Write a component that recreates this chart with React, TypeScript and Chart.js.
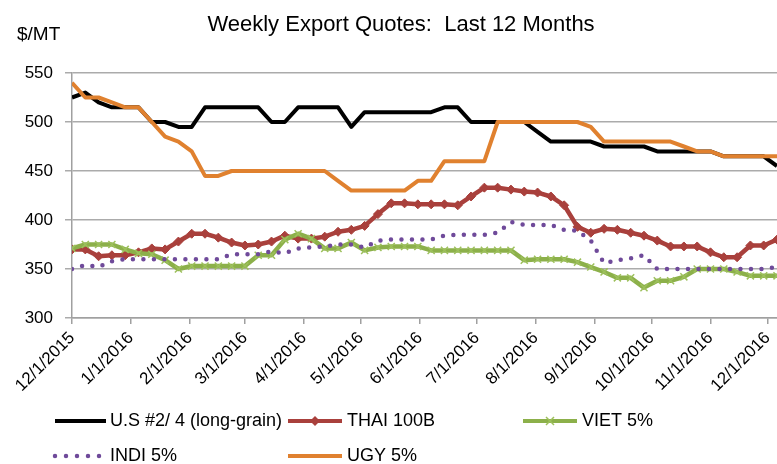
import React, { useEffect, useRef } from "react";
import { Chart, registerables } from "chart.js";

Chart.register(...registerables);

const FONT = "'Liberation Sans', Arial, sans-serif";

const TITLE = "Weekly Export Quotes:  Last 12 Months";
const Y_UNIT = "$/MT";

const DATES = [
  "12/1/2015", "12/8/2015", "12/15/2015", "12/22/2015", "12/29/2015",
  "1/5/2016", "1/12/2016", "1/19/2016", "1/26/2016",
  "2/2/2016", "2/9/2016", "2/16/2016", "2/23/2016",
  "3/1/2016", "3/8/2016", "3/15/2016", "3/22/2016", "3/29/2016",
  "4/5/2016", "4/12/2016", "4/19/2016", "4/26/2016",
  "5/3/2016", "5/10/2016", "5/17/2016", "5/24/2016", "5/31/2016",
  "6/7/2016", "6/14/2016", "6/21/2016", "6/28/2016",
  "7/5/2016", "7/12/2016", "7/19/2016", "7/26/2016",
  "8/2/2016", "8/9/2016", "8/16/2016", "8/23/2016", "8/30/2016",
  "9/6/2016", "9/13/2016", "9/20/2016", "9/27/2016",
  "10/4/2016", "10/11/2016", "10/18/2016", "10/25/2016",
  "11/1/2016", "11/8/2016", "11/15/2016", "11/22/2016", "11/29/2016",
  "12/6/2016",
];

const TICK_LABELS = [
  "12/1/2015", "1/1/2016", "2/1/2016", "3/1/2016", "4/1/2016", "5/1/2016",
  "6/1/2016", "7/1/2016", "8/1/2016", "9/1/2016", "10/1/2016", "11/1/2016",
  "12/1/2016",
];

const US = [
  525, 530, 520, 515, 515, 515, 500, 500, 495, 495,
  515, 515, 515, 515, 515, 500, 500, 515, 515, 515,
  515, 495, 510, 510, 510, 510, 510, 510, 515, 515,
  500, 500, 500, 500, 500, 490, 480, 480, 480, 480,
  475, 475, 475, 475, 470, 470, 470, 470, 470, 465,
  465, 465, 465, 455,
];

const THAI = [
  370, 370, 363, 364, 364, 367, 371, 370, 378, 386,
  386, 382, 377, 374, 375, 378, 384, 381, 381, 383,
  388, 390, 394, 406, 417, 417, 416, 416, 416, 415,
  424, 433, 433, 431, 429, 428, 424, 415, 393, 387,
  391, 390, 387, 384, 379, 373, 373, 373, 367, 362,
  362, 374, 374, 380,
];

const VIET = [
  371, 375, 375, 375, 370, 366, 365, 359, 350, 353,
  353, 353, 353, 353, 364, 364, 380, 386, 381, 371,
  371, 377, 369, 372, 373, 373, 373, 369, 369, 369,
  369, 369, 369, 369, 359, 360, 360, 360, 357, 352,
  347, 341, 341, 331, 338, 338, 342, 350, 350, 350,
  347, 343, 343, 343,
];

const INDI = [
  350, 354, 352, 358, 360, 360, 360, 360, 360, 360,
  360, 360, 365, 365, 365, 368, 366, 371, 372, 373,
  375, 375, 372, 379, 380, 380, 380, 380, 384, 385,
  385, 385, 387, 398, 395, 395, 395, 390, 389, 379,
  356, 359, 361, 364, 350, 350, 350, 350, 350, 350,
  350, 350, 350, 352,
];

const UGY = [
  540, 525, 525, 520, 515, 515, 500, 485, 480, 470,
  445, 445, 450, 450, 450, 450, 450, 450, 450, 450,
  440, 430, 430, 430, 430, 430, 440, 440, 460, 460,
  460, 460, 500, 500, 500, 500, 500, 500, 500, 495,
  480, 480, 480, 480, 480, 480, 475, 470, 470, 465,
  465, 465, 465, 465,
];

const NAMES = ["U.S #2/ 4 (long-grain)", "THAI 100B", "VIET 5%", "INDI 5%", "UGY 5%"];

const C_US = "#000000";
const C_THAI = "#A9403C";
const C_VIET = "#8CB04A";
const C_VIET_MARK = "#9DC05C";
const C_INDI = "#6F4A9A";
const C_UGY = "#E0812F";

function dayOf(s: string): number {
  const [m, d, y] = s.split("/").map(Number);
  return (Date.UTC(y, m - 1, d) - Date.UTC(2015, 11, 1)) / 86400000;
}

function pts(vals: number[]) {
  return DATES.map((d, i) => ({ x: dayOf(d), y: vals[i] }));
}

const decorPlugin = {
  id: "decor",
  afterDraw(chart: any) {
    const ctx = chart.ctx as CanvasRenderingContext2D;
    ctx.save();
    ctx.fillStyle = "#000";
    ctx.textBaseline = "middle";
    ctx.textAlign = "center";
    ctx.font = `22px ${FONT}`;
    ctx.fillText(TITLE, 401, 25);
    ctx.textAlign = "left";
    ctx.font = `19px ${FONT}`;
    ctx.fillText(Y_UNIT, 17, 35);

    // legend
    const r1 = 421;
    const r2 = 456;
    ctx.font = `18px ${FONT}`;
    const line = (x1: number, x2: number, y: number, color: string, w: number) => {
      ctx.save();
      ctx.strokeStyle = color;
      ctx.lineWidth = w;
      ctx.lineCap = "butt";
      ctx.beginPath();
      ctx.moveTo(x1, y);
      ctx.lineTo(x2, y);
      ctx.stroke();
      ctx.restore();
    };
    // US
    line(55, 106, r1, C_US, 4);
    ctx.fillText(NAMES[0], 110, r1);
    // THAI
    line(288, 342, r1, C_THAI, 4);
    ctx.save();
    ctx.fillStyle = C_THAI;
    ctx.beginPath();
    ctx.moveTo(315, r1 - 5);
    ctx.lineTo(320, r1);
    ctx.lineTo(315, r1 + 5);
    ctx.lineTo(310, r1);
    ctx.closePath();
    ctx.fill();
    ctx.restore();
    ctx.fillText(NAMES[1], 347, r1);
    // VIET
    line(523, 577, r1, C_VIET, 4);
    ctx.save();
    ctx.strokeStyle = C_VIET_MARK;
    ctx.lineWidth = 1.5;
    ctx.beginPath();
    ctx.moveTo(546, r1 - 4);
    ctx.lineTo(554, r1 + 4);
    ctx.moveTo(554, r1 - 4);
    ctx.lineTo(546, r1 + 4);
    ctx.stroke();
    ctx.restore();
    ctx.fillText(NAMES[2], 582, r1);
    // INDI
    ctx.save();
    ctx.strokeStyle = C_INDI;
    ctx.lineWidth = 4.5;
    ctx.lineCap = "round";
    ctx.setLineDash([0, 11]);
    ctx.beginPath();
    ctx.moveTo(55, r2);
    ctx.lineTo(100, r2);
    ctx.stroke();
    ctx.restore();
    ctx.fillText(NAMES[3], 110, r2);
    // UGY
    line(288, 342, r2, C_UGY, 4);
    ctx.fillText(NAMES[4], 347, r2);
    ctx.restore();
  },
};

export default function App() {
  const ref = useRef<HTMLCanvasElement | null>(null);

  useEffect(() => {
    if (!ref.current) return;
    const chart = new Chart(ref.current, {
      type: "line",
      data: {
        datasets: [
          {
            label: NAMES[0],
            data: pts(US),
            borderColor: C_US,
            backgroundColor: C_US,
            borderWidth: 4,
            pointRadius: 0,
            borderJoinStyle: "round",
            order: 5,
          },
          {
            label: NAMES[1],
            data: pts(THAI),
            borderColor: C_THAI,
            backgroundColor: C_THAI,
            borderWidth: 4.5,
            pointStyle: "rectRot",
            pointRadius: 4.5,
            pointBorderWidth: 1,
            pointBackgroundColor: C_THAI,
            pointBorderColor: C_THAI,
            borderJoinStyle: "round",
            order: 4,
          },
          {
            label: NAMES[2],
            data: pts(VIET),
            borderColor: C_VIET,
            backgroundColor: C_VIET,
            borderWidth: 4.5,
            pointStyle: "crossRot",
            pointRadius: 5,
            pointBorderWidth: 1.5,
            pointBorderColor: C_VIET_MARK,
            borderJoinStyle: "round",
            order: 3,
          },
          {
            label: NAMES[3],
            data: pts(INDI),
            borderColor: C_INDI,
            backgroundColor: C_INDI,
            borderWidth: 4.5,
            borderDash: [0, 10.5],
            borderCapStyle: "round",
            pointRadius: 0,
            order: 2,
          },
          {
            label: NAMES[4],
            data: pts(UGY),
            borderColor: C_UGY,
            backgroundColor: C_UGY,
            borderWidth: 4,
            pointRadius: 0,
            borderJoinStyle: "round",
            order: 1,
          },
        ],
      },
      options: {
        responsive: false,
        animation: false,
        layout: { autoPadding: false, padding: { top: 73, left: 0, right: 0, bottom: 0 } },
        plugins: {
          legend: { display: false },
          title: { display: false },
          tooltip: { enabled: false },
        },
        scales: {
          x: {
            type: "linear",
            min: 0,
            max: dayOf(DATES[DATES.length - 1]),
            afterBuildTicks: (s: any) => {
              s.ticks = TICK_LABELS.map((t) => ({ value: dayOf(t) }));
            },
            afterFit: (s: any) => {
              s.height = 146;
              s.paddingLeft = 0;
              s.paddingRight = 0;
            },
            ticks: {
              autoSkip: false,
              minRotation: 45,
              maxRotation: 45,
              padding: 4,
              color: "#000",
              font: { family: FONT, size: 17 },
              callback: (_v: any, i: number) => TICK_LABELS[i],
            },
            grid: {
              drawOnChartArea: false,
              drawTicks: true,
              tickLength: 6,
              color: "#A0A0A0",
              lineWidth: 1.5,
            },
            border: { color: "#A0A0A0", width: 1.5 },
          },
          y: {
            min: 300,
            max: 550,
            afterFit: (s: any) => {
              s.width = 72;
            },
            ticks: {
              stepSize: 50,
              padding: 12,
              color: "#000",
              font: { family: FONT, size: 17 },
            },
            grid: {
              color: "#ABABAB",
              lineWidth: 1.5,
              tickLength: 7,
            },
            border: { color: "#A0A0A0", width: 1.5 },
          },
        },
      },
      plugins: [decorPlugin],
    });
    return () => chart.destroy();
  }, []);

  return (
    <div style={{ position: "absolute", left: 0, top: 0, width: 777, height: 464, background: "#fff" }}>
      <canvas ref={ref} width={777} height={464} style={{ display: "block" }} />
    </div>
  );
}
